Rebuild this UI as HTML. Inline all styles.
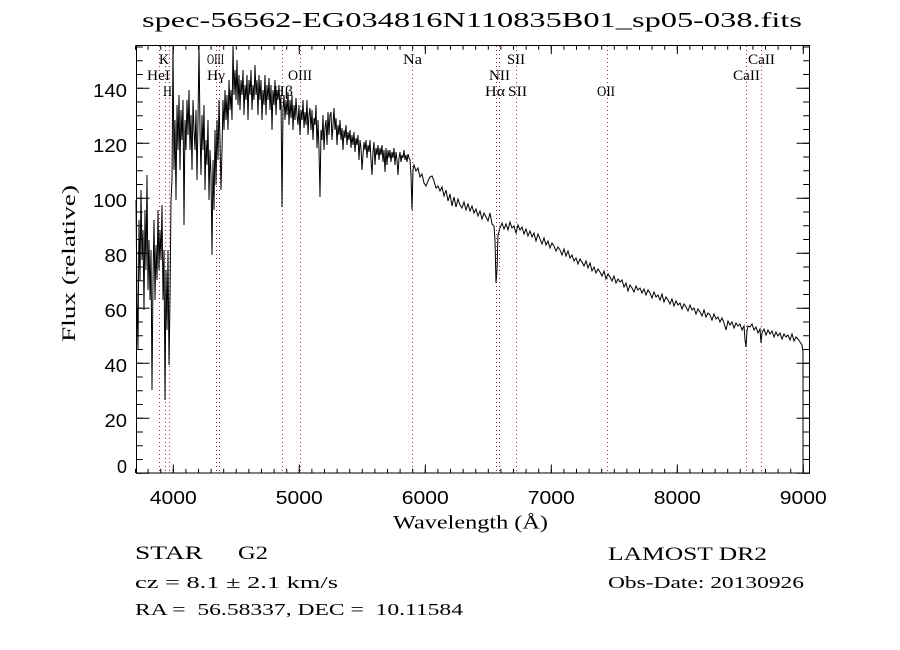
<!DOCTYPE html>
<html><head><meta charset="utf-8"><style>
html,body{margin:0;padding:0;background:#fff;}
svg{display:block;}
text{white-space:pre;}
.s{font-family:"Liberation Sans",sans-serif;font-size:18px;fill:#000;}
.r{font-family:"Liberation Serif",serif;fill:#000;}
</style></head><body>
<svg width="900" height="650" viewBox="0 0 900 650" xmlns="http://www.w3.org/2000/svg" xml:space="preserve">
<rect width="900" height="650" fill="#fff"/>
<text class="r" x="142" y="27" font-size="21" textLength="660" lengthAdjust="spacingAndGlyphs">spec-56562-EG034816N110835B01_sp05-038.fits</text>

<g stroke="#8b3050" stroke-width="1" stroke-dasharray="1 3" fill="none">
<line x1="159.5" y1="46" x2="159.5" y2="473"/>
<line x1="165.5" y1="46" x2="165.5" y2="473"/>
<line x1="169.5" y1="46" x2="169.5" y2="473"/>
<line x1="216.5" y1="46" x2="216.5" y2="473"/>
<line x1="219.5" y1="46" x2="219.5" y2="473"/>
<line x1="282.5" y1="46" x2="282.5" y2="473"/>
<line x1="300.5" y1="46" x2="300.5" y2="473"/>
<line x1="412.5" y1="46" x2="412.5" y2="473"/>
<line x1="496.5" y1="46" x2="496.5" y2="473"/>
<line x1="499.5" y1="46" x2="499.5" y2="473"/>
<line x1="516.5" y1="46" x2="516.5" y2="473"/>
<line x1="607.5" y1="46" x2="607.5" y2="473"/>
<line x1="746.5" y1="46" x2="746.5" y2="473"/>
<line x1="761.5" y1="46" x2="761.5" y2="473"/>
</g>

<g class="r" font-size="15">
<text x="159" y="64" textLength="10" lengthAdjust="spacingAndGlyphs">K</text>
<text x="207" y="64" textLength="17" lengthAdjust="spacingAndGlyphs">OIII</text>
<text x="403" y="64" textLength="19" lengthAdjust="spacingAndGlyphs">Na</text>
<text x="507" y="64" textLength="18" lengthAdjust="spacingAndGlyphs">SII</text>
<text x="748" y="64" textLength="27" lengthAdjust="spacingAndGlyphs">CaII</text>
<text x="147" y="80" textLength="23" lengthAdjust="spacingAndGlyphs">HeI</text>
<text x="207" y="80" textLength="18" lengthAdjust="spacingAndGlyphs">Hγ</text>
<text x="288" y="80" textLength="24" lengthAdjust="spacingAndGlyphs">OIII</text>
<text x="489" y="80" textLength="21" lengthAdjust="spacingAndGlyphs">NII</text>
<text x="733" y="80" textLength="27" lengthAdjust="spacingAndGlyphs">CaII</text>
<text x="163" y="96" textLength="9" lengthAdjust="spacingAndGlyphs">H</text>
<text x="273" y="96" textLength="20" lengthAdjust="spacingAndGlyphs">Hβ</text>
<text x="485" y="96" textLength="20" lengthAdjust="spacingAndGlyphs">Hα</text>
<text x="508" y="96" textLength="19" lengthAdjust="spacingAndGlyphs">SII</text>
<text x="597" y="96" textLength="18" lengthAdjust="spacingAndGlyphs">OII</text>
</g>

<polyline fill="none" stroke="#000" stroke-width="1" points="136,200 137,300 138,350 139,220 140,280 141,190 142,260 143,230 144,310 145,210 146,270 147,175 148,290 149,240 150,300 151,250 152,390 153,280 154,220 155,300 156,245 157,280 158,210 159,270 160,230 161,260 162,205 163,300 164,250 165,400 166,270 167,330 168,250 169,365 170,300 171,200 172,180 173,45 174,170 175,120 176,200 177,105 178,150 179,95 180,170 181,110 182,140 183,100 184,225 185,120 186,150 187,100 188,135 189,90 190,150 191,115 192,170 193,100 194,130 195,150 196,110 197,180 198,120 199,45 200,130 201,175 202,115 203,150 204,105 205,190 206,140 207,165 208,120 209,200 210,150 211,175 212,255 213,160 214,210 215,130 216,185 217,120 218,160 219,100 220,140 221,190 222,150 223,100 224,130 225,90 226,120 227,95 228,130 229,80 230,110 231,90 232,120 233,45 234,95 235,70 236,100 237,60 238,105 239,75 240,110 241,80 242,95 243,70 244,115 245,85 246,100 247,75 248,120 249,80 250,95 251,70 252,110 253,85 254,100 255,65 256,95 257,80 258,115 259,75 260,100 261,80 262,120 263,90 264,105 265,75 266,115 267,85 268,100 269,78 270,110 271,85 272,130 273,90 274,105 275,80 276,115 277,90 278,100 279,85 280,110 281,95 282,207 283,110 284,95 285,120 286,100 287,115 288,92 289,125 290,100 291,118 292,95 293,130 294,105 295,120 296,98 297,115 298,125 299,105 300,135 301,110 302,120 303,100 304,128 305,112 306,125 307,100 308,135 309,115 310,108 311,130 312,110 313,140 314,118 315,125 316,105 317,148 318,120 319,150 320,197 321,130 322,140 323,115 324,150 325,128 326,120 327,145 328,112 329,135 330,115 331,112 332,140 333,125 334,108 335,130 336,118 337,145 338,125 339,135 340,120 341,140 342,128 343,150 344,130 345,138 346,125 347,145 348,132 349,140 350,130 351,148 352,135 353,145 354,132 355,152 356,138 357,145 358,135 359,160 360,140 361,148 362,170 363,155 364,142 365,150 366,140 367,158 368,145 369,152 370,140 371,160 372,175 373,152 374,142 375,165 376,148 377,155 378,145 379,160 380,148 381,155 382,145 383,162 384,150 385,172 386,148 387,165 388,150 389,158 390,150 391,162 392,152 393,158 394,148 395,165 396,152 397,160 398,175 399,158 400,152 401,162 402,155 403,158 404,150 405,160 406,155 407,162 408,154 409,158 410,160 411,175 412,210 413,170 414,165 416,171 418,168 420,177 422,174 424,183 426,186 428,181 430,177 432,176 434,181 436,188 438,186 440,191 442,187 444,196 446,190 448,201 450,194 452,206 454,197 456,207 458,199 460,205 462,208 464,202 466,210 468,204 470,211 472,206 474,213 476,209 478,216 480,211 482,219 484,213 486,217 488,221 490,213 492,224 494,226 495,240 496,283 497,270 498,235 500,228 502,223 504,229 506,224 508,230 510,222 512,228 514,226 516,233 518,225 520,230 522,227 524,234 526,229 528,236 530,231 532,237 534,233 536,241 538,234 540,239 542,244 544,238 546,245 548,241 550,248 552,243 554,246 556,251 558,247 560,250 562,255 564,249 566,256 568,251 570,258 572,255 574,261 576,258 578,264 580,259 582,262 584,266 586,261 588,268 590,263 592,271 594,267 596,273 598,269 600,272 602,276 604,271 606,279 608,274 610,277 612,281 614,276 616,283 618,279 620,282 622,280 624,287 626,283 628,291 630,285 632,288 634,292 636,286 638,290 640,288 642,293 644,289 646,295 648,290 650,293 652,298 654,292 656,297 658,295 660,300 662,294 664,302 666,297 668,300 670,304 672,299 674,306 676,301 678,305 680,303 682,309 684,304 686,307 688,311 690,305 692,310 694,308 696,314 698,309 700,312 702,316 704,310 706,317 708,313 710,315 712,320 714,314 716,319 718,317 720,322 722,318 724,323 726,330 728,321 730,325 732,322 734,328 736,323 738,326 740,324 742,330 744,326 745,340 746,347 747,331 748,326 750,327 752,324 754,330 756,327 758,333 760,329 761,343 762,333 764,329 766,335 768,330 770,334 772,331 774,337 776,332 778,336 780,333 782,339 784,334 786,337 788,335 790,340 792,334 794,341 796,337 798,339 800,342 802,345 803,352 803,473 810,473"/>

<rect x="136.5" y="45.5" width="673" height="427.5" fill="none" stroke="#000" stroke-width="1"/>

<g stroke="#000" fill="none">
<line x1="135" y1="470.9" x2="810" y2="470.9" stroke-width="4.3" stroke-dasharray="1 11.6"/>
<line x1="172.8" y1="468.8" x2="810" y2="468.8" stroke-width="8.6" stroke-dasharray="1 125"/>
<line x1="135" y1="47.6" x2="810" y2="47.6" stroke-width="4.3" stroke-dasharray="1 11.6"/>
<line x1="172.8" y1="49.8" x2="810" y2="49.8" stroke-width="8.6" stroke-dasharray="1 125"/>
<line x1="139.4" y1="473.8" x2="139.4" y2="45" stroke-width="6.8" stroke-dasharray="1 12.75"/>
<line x1="142.75" y1="473.8" x2="142.75" y2="45" stroke-width="13.5" stroke-dasharray="1 54"/>
<line x1="806.6" y1="473.8" x2="806.6" y2="45" stroke-width="6.8" stroke-dasharray="1 12.75"/>
<line x1="803.25" y1="473.8" x2="803.25" y2="45" stroke-width="13.5" stroke-dasharray="1 54"/>
</g>

<g class="s">
<text x="93" y="96.8" textLength="34" lengthAdjust="spacingAndGlyphs">140</text>
<text x="93" y="151.8" textLength="34" lengthAdjust="spacingAndGlyphs">120</text>
<text x="93" y="206.8" textLength="34" lengthAdjust="spacingAndGlyphs">100</text>
<text x="104.5" y="261.8" textLength="22.5" lengthAdjust="spacingAndGlyphs">80</text>
<text x="104.5" y="316.8" textLength="22.5" lengthAdjust="spacingAndGlyphs">60</text>
<text x="104.5" y="371.8" textLength="22.5" lengthAdjust="spacingAndGlyphs">40</text>
<text x="104.5" y="426.8" textLength="22.5" lengthAdjust="spacingAndGlyphs">20</text>
<text x="117" y="473" textLength="10" lengthAdjust="spacingAndGlyphs">0</text>
<text x="149.8" y="504" textLength="47" lengthAdjust="spacingAndGlyphs">4000</text>
<text x="275.8" y="504" textLength="47" lengthAdjust="spacingAndGlyphs">5000</text>
<text x="401.8" y="504" textLength="47" lengthAdjust="spacingAndGlyphs">6000</text>
<text x="527.8" y="504" textLength="47" lengthAdjust="spacingAndGlyphs">7000</text>
<text x="653.8" y="504" textLength="47" lengthAdjust="spacingAndGlyphs">8000</text>
<text x="779.8" y="504" textLength="47" lengthAdjust="spacingAndGlyphs">9000</text>
</g>

<text class="r" x="393" y="528.5" font-size="19" textLength="155" lengthAdjust="spacingAndGlyphs">Wavelength (Å)</text>
<text class="r" font-size="19" transform="translate(75,342) rotate(-90)" textLength="157" lengthAdjust="spacingAndGlyphs">Flux (relative)</text>

<g class="r">
<text x="135" y="559" font-size="19" textLength="68" lengthAdjust="spacingAndGlyphs">STAR</text>
<text x="238" y="559" font-size="19" textLength="30" lengthAdjust="spacingAndGlyphs">G2</text>
<text x="135" y="588" font-size="16.5" textLength="203" lengthAdjust="spacingAndGlyphs">cz = 8.1 ± 2.1 km/s</text>
<text x="135" y="615" font-size="16.5" textLength="328" lengthAdjust="spacingAndGlyphs">RA =  56.58337, DEC =  10.11584</text>
<text x="608" y="560" font-size="19" textLength="159" lengthAdjust="spacingAndGlyphs">LAMOST DR2</text>
<text x="608" y="588" font-size="16.5" textLength="196" lengthAdjust="spacingAndGlyphs">Obs-Date: 20130926</text>
</g>
</svg>
</body></html>
